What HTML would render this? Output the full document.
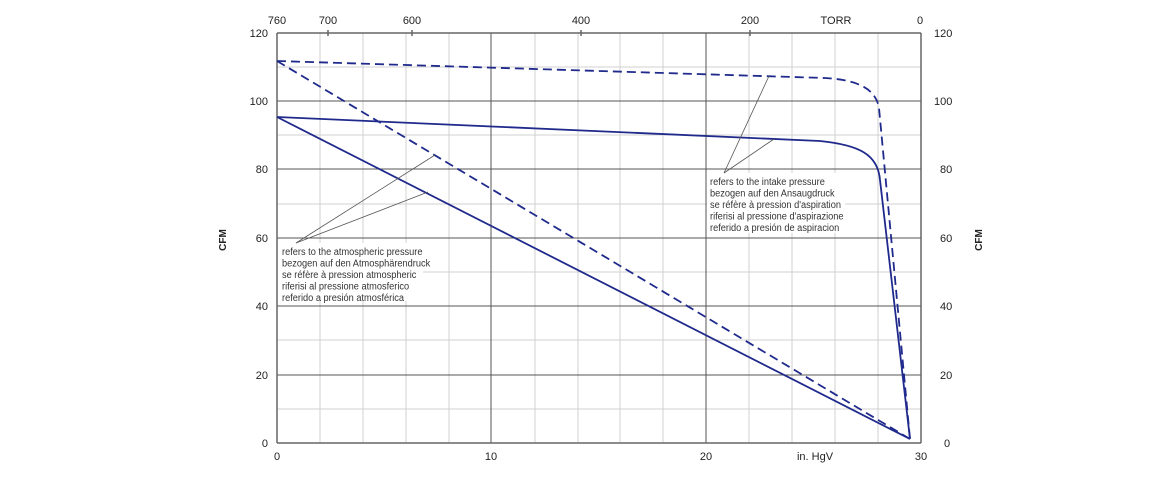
<!DOCTYPE html>
<html><head><meta charset="utf-8"><style>
html,body{margin:0;padding:0;background:#fff;}
svg{display:block;font-family:"Liberation Sans",sans-serif;}
</style></head><body>
<svg width="1160" height="480" viewBox="0 0 1160 480" xmlns="http://www.w3.org/2000/svg">
<g stroke="#d0d0d0" stroke-width="1">
<line x1="320" y1="33" x2="320" y2="443"/><line x1="363" y1="33" x2="363" y2="443"/><line x1="406" y1="33" x2="406" y2="443"/><line x1="449" y1="33" x2="449" y2="443"/>
<line x1="535" y1="33" x2="535" y2="443"/><line x1="578" y1="33" x2="578" y2="443"/><line x1="620" y1="33" x2="620" y2="443"/><line x1="663" y1="33" x2="663" y2="443"/>
<line x1="749" y1="33" x2="749" y2="443"/><line x1="792" y1="33" x2="792" y2="443"/><line x1="835" y1="33" x2="835" y2="443"/><line x1="878" y1="33" x2="878" y2="443"/>
<line x1="277" y1="67" x2="921" y2="67"/><line x1="277" y1="135" x2="921" y2="135"/><line x1="277" y1="204" x2="921" y2="204"/><line x1="277" y1="272" x2="921" y2="272"/><line x1="277" y1="340" x2="921" y2="340"/><line x1="277" y1="409" x2="921" y2="409"/>
</g>
<g stroke="#555" stroke-width="1">
<line x1="491" y1="33" x2="491" y2="443"/><line x1="706" y1="33" x2="706" y2="443"/>
<line x1="277" y1="101" x2="921" y2="101"/><line x1="277" y1="169" x2="921" y2="169"/><line x1="277" y1="238" x2="921" y2="238"/><line x1="277" y1="306" x2="921" y2="306"/><line x1="277" y1="375" x2="921" y2="375"/>
</g>
<g stroke="#666" stroke-width="1.5" fill="none">
<line x1="277" y1="33" x2="921" y2="33"/><line x1="277" y1="443" x2="921" y2="443"/>
<line x1="277" y1="33" x2="277" y2="443"/><line x1="921" y1="33" x2="921" y2="443"/>
<line x1="328" y1="30" x2="328" y2="36"/><line x1="412" y1="30" x2="412" y2="36"/><line x1="581" y1="30" x2="581" y2="36"/><line x1="750" y1="30" x2="750" y2="36"/>
</g>
<rect x="278" y="243" width="145" height="58" fill="#fff"/>
<rect x="707" y="173" width="138" height="60" fill="#fff"/>
<g stroke="#202a8c" stroke-width="1.8" fill="none">
<path d="M277,117 L820,141 C860,145 878,155 880,180 L910,439"/>
<line x1="277" y1="117" x2="910" y2="439"/>
<path d="M277,61 L825,78 C860,80 876,90 879,108 L910,439" stroke-dasharray="9,5"/>
<line x1="277" y1="61" x2="910" y2="439" stroke-dasharray="9,5"/>
</g>
<g stroke="#555" stroke-width="0.8">
<line x1="296" y1="243" x2="435" y2="155"/><line x1="296" y1="243" x2="428" y2="192"/>
<line x1="724" y1="173" x2="769" y2="76"/><line x1="724" y1="173" x2="774" y2="139"/>
</g>
<g font-size="10.5" fill="#333">
<g transform="translate(282,0) scale(0.88,1)">
<text x="0" y="255">refers to the atmospheric pressure</text>
<text x="0" y="266.5">bezogen auf den Atmosphärendruck</text>
<text x="0" y="278">se réfère à pression atmospheric</text>
<text x="0" y="289.5">riferisi al pressione atmosferico</text>
<text x="0" y="301">referido a presión atmosférica</text>
</g>
<g transform="translate(710,0) scale(0.88,1)">
<text x="0" y="185">refers to the intake pressure</text>
<text x="0" y="196.5">bezogen auf den Ansaugdruck</text>
<text x="0" y="208">se réfère à pression d'aspiration</text>
<text x="0" y="219.5">riferisi al pressione d'aspirazione</text>
<text x="0" y="231">referido a presión de aspiracion</text>
</g>
</g>
<g font-size="11" fill="#222">
<g text-anchor="end">
<text x="268" y="37">120</text><text x="268" y="105">100</text><text x="268" y="173">80</text><text x="268" y="242">60</text><text x="268" y="310">40</text><text x="268" y="379">20</text><text x="268" y="447">0</text>
</g>
<g text-anchor="start">
<text x="934" y="37">120</text><text x="934" y="105">100</text><text x="940" y="173">80</text><text x="940" y="242">60</text><text x="940" y="310">40</text><text x="940" y="379">20</text><text x="944" y="447">0</text>
</g>
<g text-anchor="middle">
<text x="277" y="460">0</text><text x="491" y="460">10</text><text x="706" y="460">20</text><text x="921" y="460">30</text>
<text x="815" y="460">in. HgV</text>
<text x="277" y="24">760</text><text x="328" y="24">700</text><text x="412" y="24">600</text><text x="581" y="24">400</text><text x="750" y="24">200</text><text x="836" y="24">TORR</text><text x="920" y="24">0</text>
</g>
<text transform="translate(226,240) rotate(-90)" text-anchor="middle" font-weight="bold" font-size="10">CFM</text>
<text transform="translate(982,240) rotate(-90)" text-anchor="middle" font-weight="bold" font-size="10">CFM</text>
</g>
</svg>
</body></html>
